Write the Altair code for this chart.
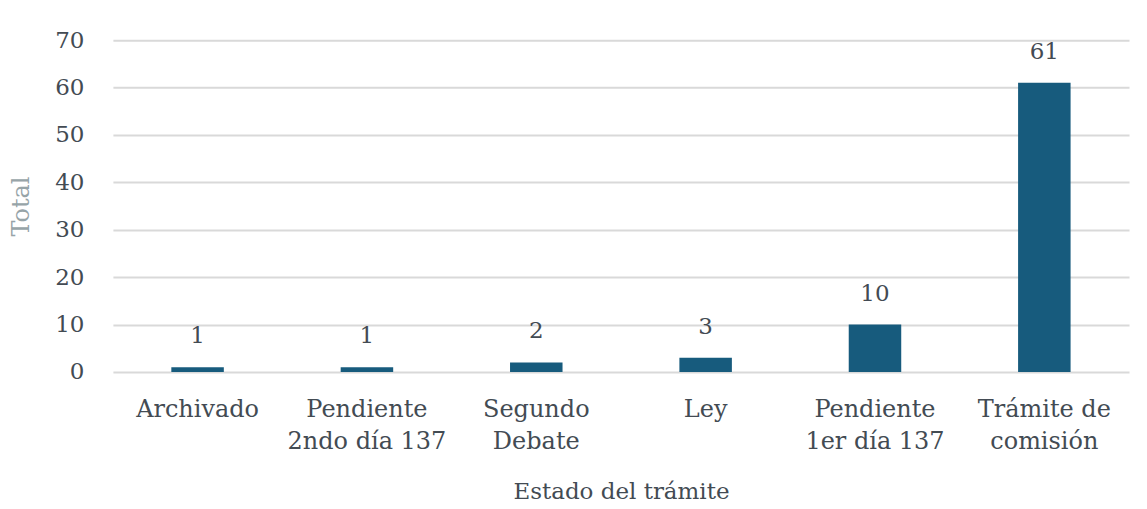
import altair as alt
import pandas as pd

categories = ["Archivado", "Pendiente\n2ndo día 137", "Segundo\nDebate", "Ley",
              "Pendiente\n1er día 137", "Trámite de\ncomisión"]
totals = [1, 1, 2, 3, 10, 61]
y_ticks = [0, 10, 20, 30, 40, 50, 60, 70]

df = pd.DataFrame({"estado": categories, "total": totals})

FONT = "DejaVu Serif"
TXT = "#434b53"

x = alt.X("estado:N", sort=categories, title="Estado del trámite",
          scale=alt.Scale(paddingInner=0.69, paddingOuter=0.345),
          axis=alt.Axis(labelAngle=0, ticks=False, domain=False, grid=False,
                        labelExpr="split(datum.label, '\\n')",
                        labelFont=FONT, labelFontSize=24, labelColor=TXT,
                        labelLineHeight=32, labelPadding=26, labelLimit=300,
                        titleFont=FONT, titleFontSize=23, titleFontWeight="normal",
                        titleColor=TXT, titleY=120, titleBaseline="middle"))
y = alt.Y("total:Q", title="Total",
          scale=alt.Scale(domain=[0, 70], nice=False),
          axis=alt.Axis(values=y_ticks, ticks=False, domain=False, grid=True,
                        gridColor="#d9d9d9", gridWidth=2,
                        labelFont=FONT, labelFontSize=23, labelColor=TXT,
                        labelPadding=29,
                        titleFont=FONT, titleFontSize=24, titleFontWeight="normal",
                        titleColor="#97a4a8", titleX=-91, titleY=166,
                        titleAngle=-90, titleAlign="center", titleBaseline="middle"))

bars = alt.Chart(df).mark_bar(color="#175b7d").encode(x=x, y=y)
labels = alt.Chart(df).mark_text(font=FONT, fontSize=23, color=TXT,
                                 baseline="alphabetic", dy=-24).encode(
    x=alt.X("estado:N", sort=categories), y="total:Q", text="total:Q")

chart = (bars + labels).properties(
    width=1017, height=332,
    autosize=alt.AutoSizeParams(type="none"),
    padding={"left": 105, "top": 32, "right": 10, "bottom": 136},
).configure(background="white").configure_view(stroke=None, strokeWidth=0)

chart.save("out.html", embed_options={"renderer": "svg", "actions": False})
